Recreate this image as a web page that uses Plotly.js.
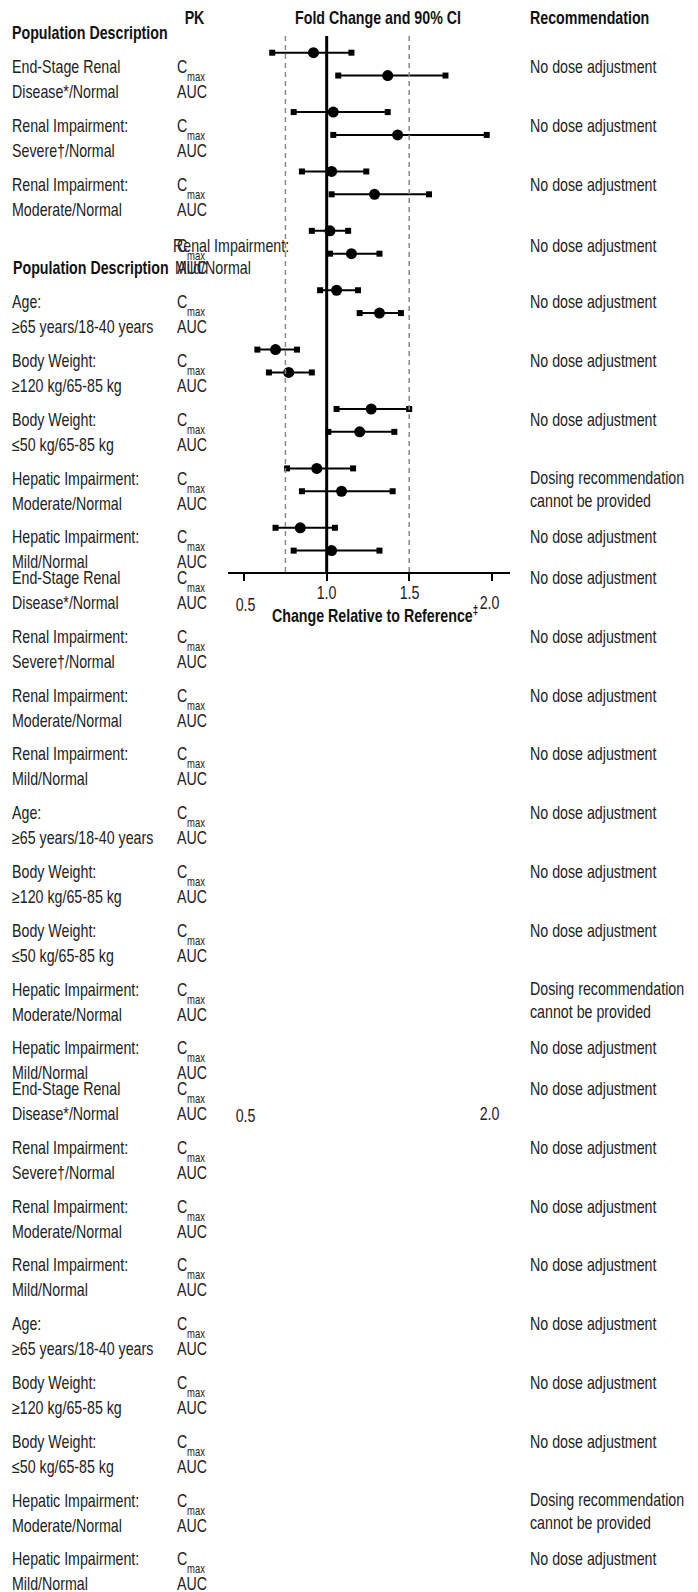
<!DOCTYPE html>
<html>
<head>
<meta charset="utf-8">
<script src="https://cdn.plot.ly/plotly-3.0.1.min.js"></script>
<style>html,body{margin:0;padding:0;background:#fff;}#chart{width:698px;height:1592px;}</style>
</head>
<body>
<div id="chart"></div>
<script>
// ---------------- data ----------------
const groupLine1 = ["End-Stage Renal", "Renal Impairment:", "Renal Impairment:", "Renal Impairment:", "Age:", "Body Weight:", "Body Weight:", "Hepatic Impairment:", "Hepatic Impairment:"];
const groupLine2 = ["Disease*/Normal", "Severe\u2020/Normal", "Moderate/Normal", "Mild/Normal", "\u226565 years/18-40 years", "\u2265120 kg/65-85 kg", "\u226450 kg/65-85 kg", "Moderate/Normal", "Mild/Normal"];
const recommendations = ["No dose adjustment", "No dose adjustment", "No dose adjustment", "No dose adjustment", "No dose adjustment", "No dose adjustment", "No dose adjustment", "Dosing recommendation<br>cannot be provided", "No dose adjustment"];
const pkLabels = ["C", "AUC"];
const pkSub = "max";
const cmaxEst = [0.92, 1.04, 1.03, 1.02, 1.06, 0.69, 1.27, 0.94, 0.84];
const cmaxLo  = [0.67, 0.80, 0.85, 0.91, 0.96, 0.58, 1.06, 0.76, 0.69];
const cmaxHi  = [1.15, 1.37, 1.24, 1.13, 1.19, 0.82, 1.50, 1.16, 1.05];
const aucEst  = [1.37, 1.43, 1.29, 1.15, 1.32, 0.77, 1.20, 1.09, 1.03];
const aucLo   = [1.07, 1.04, 1.03, 1.02, 1.20, 0.65, 1.01, 0.85, 0.80];
const aucHi   = [1.72, 1.97, 1.62, 1.32, 1.45, 0.91, 1.41, 1.40, 1.32];
const xTickVals = [0.5, 1.0, 1.5, 2.0];
const xTickText = ["0.5", "1.0", "1.5", "2.0"];
const refLine = 1.0;
const boundLines = [0.75, 1.5];
const headers = {pop: "Population Description", pk: "PK", fold: "Fold Change and 90% CI", rec: "Recommendation"};
const xTitle = "Change Relative to Reference<sup>\u2021</sup>";

// ---------------- layout helpers ----------------
const W = 698, H = 1592;
const FONT = "'Liberation Sans', Arial, sans-serif";
const SQUEEZE = 0.79;           // horizontal condensing of the text
const FS = 18;
const TXT = "#222";
const px = x => x / W;
const py = y => 1 - y / H;
const rowPos = (g, k) => g * 2.6 + k;

// CI traces
const ciX = [], ciY = [], estX = [], estY = [];
for (let g = 0; g < groupLine1.length; g++) {
  const rows = [[cmaxLo[g], cmaxEst[g], cmaxHi[g]], [aucLo[g], aucEst[g], aucHi[g]]];
  rows.forEach((r, k) => {
    ciX.push(r[0], r[2], null); ciY.push(rowPos(g, k), rowPos(g, k), null);
    estX.push(r[1]); estY.push(rowPos(g, k));
  });
}
const traces = [
  {type: "scatter", mode: "lines+markers", x: ciX, y: ciY, connectgaps: false,
   line: {color: "#000", width: 2}, marker: {symbol: "square", size: 6, color: "#000"}, hoverinfo: "skip"},
  {type: "scatter", mode: "markers", x: estX, y: estY,
   marker: {symbol: "circle", size: 11, color: "#000"}, hoverinfo: "skip"}
];

// annotations
const ann = [];
function txt(text, x, y, opts = {}) {
  ann.push(Object.assign({
    text: text, xref: "paper", yref: "paper", x: px(x), y: py(y),
    xanchor: "left", yanchor: "middle", align: "left", showarrow: false,
    font: {family: FONT, size: FS, color: TXT}, borderpad: 0, borderwidth: 0
  }, opts));
}
const bold = () => ({family: FONT, size: FS, color: "#111", weight: "bold"});

// headers
txt("<b>" + headers.pk + "</b>", 194, 18, {xanchor: "center", font: bold()});
txt("<b>" + headers.fold + "</b>", 378, 18, {xanchor: "center", font: bold()});
txt("<b>" + headers.rec + "</b>", 530, 18, {font: bold()});
txt("<b>" + headers.pop + "</b>", 12, 33, {font: bold()});
txt("<b>" + headers.pop + "</b>", 13, 268, {font: bold()});

// repeated text blocks
const blockBase = [67, 578, 1089];
blockBase.forEach((base, b) => {
  for (let g = 0; g < groupLine1.length; g++) {
    let y1 = base + g * 58.8, y2 = y1 + 25, lx1 = 12, lx2 = 12;
    if (b === 0 && g === 3) { y1 = 246; y2 = 268; lx1 = 173; lx2 = 175; }
    txt(groupLine1[g], lx1, y1);
    txt(groupLine2[g], lx2, y2);
    txt(pkLabels[0], 177, y1);
    txt(pkSub, 187, y1 + 10, {font: {family: FONT, size: 12, color: TXT}});
    txt(pkLabels[1], 177, y2);
    const rec = recommendations[g];
    if (rec.indexOf("<br>") >= 0) txt(rec, 530, y1 + 10.5);
    else txt(rec, 530, y1);
  }
  // stray tick labels repeated with the text block
  const tb = base + 538;
  if (tb < H) {
    txt(xTickText[0], 245, tb, {xanchor: "center"});
    txt(xTickText[3], 489, tb - 2, {xanchor: "center"});
  }
});
// regular tick labels
txt(xTickText[1], 326.7, 593, {xanchor: "center"});
txt(xTickText[2], 409, 593, {xanchor: "center"});
// axis title
txt("<b>" + xTitle + "</b>", 272, 614, {font: bold()});

const shapes = [
  {type: "line", xref: "x", yref: "y domain", x0: refLine, x1: refLine, y0: 0, y1: 1,
   line: {color: "#000", width: 3}}
];
boundLines.forEach(v => shapes.push({type: "line", xref: "x", yref: "y domain", x0: v, x1: v, y0: 0, y1: 1,
   line: {color: "#8a8a8a", width: 1.5, dash: "5px,4px"}}));

const layout = {
  width: W, height: H, margin: {l: 0, r: 0, t: 0, b: 0},
  paper_bgcolor: "#fff", plot_bgcolor: "rgba(0,0,0,0)", showlegend: false,
  xaxis: {domain: [px(228), px(510)], range: [0.402, 2.111], tickvals: xTickVals, ticktext: xTickText,
          showticklabels: false, ticks: "outside", ticklen: 7, tickwidth: 2, tickcolor: "#000",
          showline: true, linecolor: "#000", linewidth: 2, showgrid: false, zeroline: false, fixedrange: true},
  yaxis: {domain: [py(572), py(36)], range: [22.736, -0.731], visible: false, showgrid: false, zeroline: false, fixedrange: true},
  annotations: ann, shapes: shapes
};

function condense(gd) {
  gd.querySelectorAll("g.annotation").forEach(g => {
    const i = +g.getAttribute("data-index");
    const a = ann[i];
    const t = g.querySelector("text.annotation-text");
    if (!t || !a) return;
    const bb = t.getBBox();
    const cx = a.xanchor === "center" ? bb.x + bb.width / 2 : bb.x;
    t.setAttribute("transform", "translate(" + cx + ",0) scale(" + SQUEEZE + ",1) translate(" + (-cx) + ",0)");
  });
}
Plotly.newPlot("chart", traces, layout, {staticPlot: true, displayModeBar: false}).then(condense);
</script>
</body>
</html>
